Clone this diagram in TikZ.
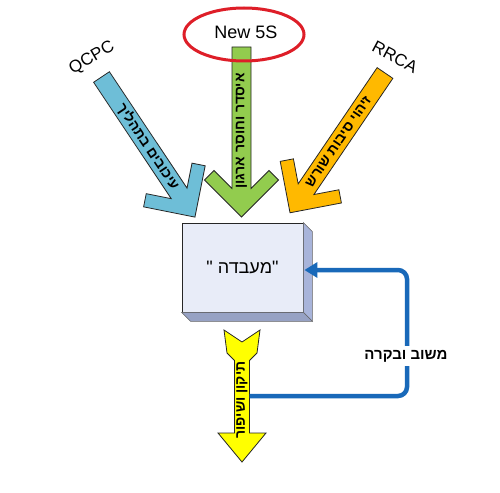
\documentclass[tikz,border=0pt]{standalone}
\usepackage{fontspec}
\setmainfont{Liberation Sans}
\newfontfamily\heb[Script=Hebrew]{Liberation Sans}
\TeXXeTstate=1
\usetikzlibrary{arrows.meta,calc}
\definecolor{cblue}{RGB}{110,190,215}
\definecolor{cgreen}{RGB}{146,204,78}
\definecolor{corange}{RGB}{255,185,0}
\definecolor{cyellow}{RGB}{255,255,0}
\definecolor{cred}{RGB}{222,30,40}
\definecolor{cfront}{RGB}{232,236,248}
\definecolor{cside}{RGB}{168,180,218}
\definecolor{cfb}{RGB}{25,105,185}
\newcommand{\fatarrowpath}[2]{% #1 length, #2 colour
  \draw[fatarrow, fill=#2] (0,9.5) -- ({#1-28.5},9.5) -- ({#1-46.5},27.5) -- ({#1-37},37) -- (#1,0)
    -- ({#1-37},-37) -- ({#1-46.5},-27.5) -- ({#1-28.5},-9.5) -- (0,-9.5) -- cycle;}
\tikzset{
  fatarrow/.style={draw=black!85, line width=0.8pt, line join=miter},
  arrowtext/.style={font=\heb\bfseries\fontsize{14}{14}\selectfont, inner sep=0pt, transform shape},
  toplabel/.style={font=\fontsize{17}{17}\selectfont, inner sep=0pt},
  feedback/.style={draw=cfb, line width=4.5pt, rounded corners=9pt},
}
\begin{document}
\begin{tikzpicture}[x=1pt,y=-1pt]
\useasboundingbox (0,0) rectangle (500,492);
\fill[white] (0,0) rectangle (500,492);

% blue arrow
\begin{scope}[shift={(101.5,77)}, rotate=-56.3]
  \fatarrowpath{168.4}{cblue}
  \node[arrowtext] (tblue) at (84,0) {\beginR עיכובים בתהליך\endR};
\end{scope}
% green arrow
\begin{scope}[shift={(241.5,47)}, rotate=-90]
  \fatarrowpath{170}{cgreen}
  \node[arrowtext, rotate=180] (tgreen) at (84,0) {\beginR איסדר וחוסר ארגון\endR};
\end{scope}
% orange arrow
\begin{scope}[shift={(385,73)}, rotate=-124.2]
  \fatarrowpath{169}{corange}
  \node[arrowtext, rotate=180] (torange) at (83,0) {\beginR זיהוי סיבות שורש\endR};
\end{scope}

% ellipse and labels
\draw[cred, line width=3pt] (244,34.5) ellipse [x radius=60, y radius=26.5];
\node[font=\fontsize{18}{18}\selectfont, inner sep=0pt] (ns) at (246,32) {New 5S};
\node[toplabel, rotate=30] (qcpc) at (92,58) {QCPC};
\node[toplabel, rotate=-28] (rrca) at (395,57) {RRCA};

% box
\node[draw=black!85, line width=0.8pt, fill=cfront, minimum width=121pt, minimum height=89pt,
      inner sep=0pt, font=\heb\fontsize{18}{18}\selectfont] (box) at (242.5,267.5)
      {"\ \beginR מעבדה\endR"};
\draw[fill=cside, draw=black!60, line width=0.6pt] (box.north east) -- ++(9,9) -- ($(box.south east)+(9,9)$) -- (box.south east) -- cycle;
\draw[fill=cside!90!black, draw=black!60, line width=0.6pt] (box.south west) -- ++(9,9) -- ($(box.south east)+(9,9)$) -- (box.south east) -- cycle;

% yellow arrow
\draw[fatarrow, fill=cyellow] (224,330) -- (242,342) -- (260,330) -- (257,353) -- (249.5,360.5)
  -- (249.5,433) -- (266,433) -- (242,462) -- (218,433) -- (234.5,433) -- (234.5,360.5)
  -- (227,353) -- cycle;
\node[arrowtext, rotate=90] (tyellow) at (242,400) {\beginR תיקון ושיפור\endR};

% feedback
\coordinate (fbstart) at (249.5,396);
\coordinate (fbend) at ($(box.east)+(1,2.5)$);
\draw[feedback, -{Triangle[length=13pt,width=15pt]}] (fbstart) -- (407,396) -- (407,270) -- (fbend);
\node[fill=white, inner sep=4pt, font=\heb\bfseries\fontsize{15}{15}\selectfont] (fbl) at (406,356)
  {\beginR משוב ובקרה\endR};
\end{tikzpicture}
\end{document}
